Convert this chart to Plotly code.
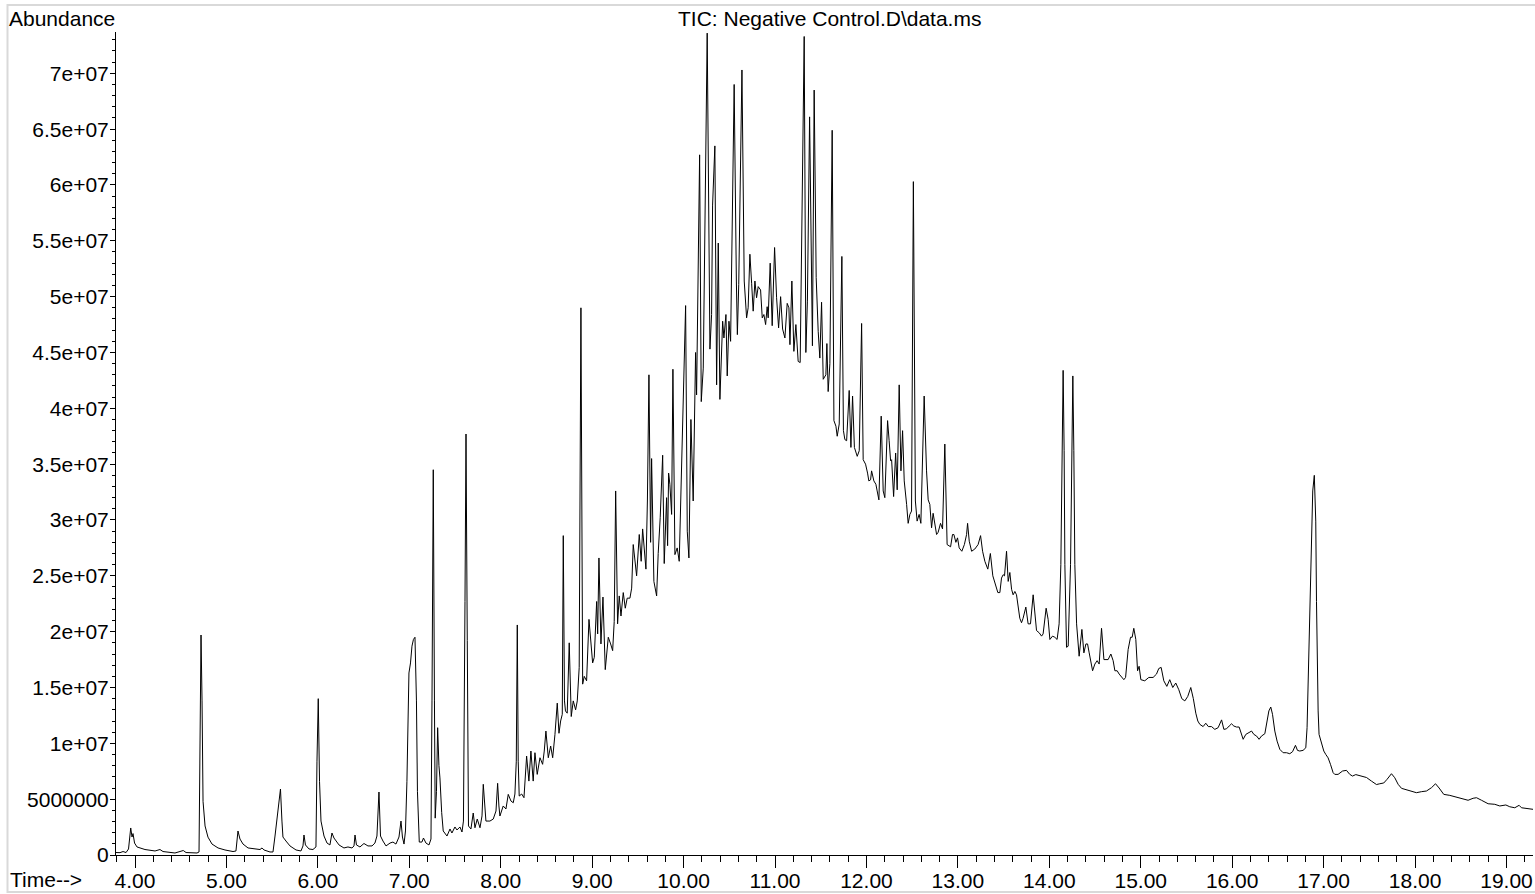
import plotly.graph_objects as go

# Retention time (minutes) and TIC abundance (millions)
time_min = [
    3.792, 3.836, 3.869, 3.902, 3.929, 3.953, 3.967, 3.978, 3.995, 4.022,
    4.109, 4.219, 4.273, 4.306, 4.437, 4.528, 4.558, 4.678, 4.700, 4.711,
    4.722, 4.733, 4.744, 4.766, 4.798, 4.842, 4.908, 4.984, 5.072, 5.104,
    5.126, 5.148, 5.181, 5.236, 5.312, 5.367, 5.389, 5.411, 5.476, 5.509,
    5.531, 5.553, 5.575, 5.591, 5.607, 5.618, 5.651, 5.695, 5.761, 5.815,
    5.837, 5.848, 5.864, 5.903, 5.946, 5.979, 5.990, 6.004, 6.018, 6.034,
    6.067, 6.100, 6.132, 6.154, 6.176, 6.198, 6.231, 6.285, 6.329, 6.373,
    6.395, 6.406, 6.422, 6.460, 6.504, 6.548, 6.592, 6.624, 6.646, 6.668,
    6.685, 6.712, 6.745, 6.789, 6.821, 6.854, 6.887, 6.909, 6.925, 6.942,
    6.958, 6.974, 6.989, 6.996, 7.013, 7.029, 7.045, 7.062, 7.078, 7.089,
    7.109, 7.138, 7.155, 7.182, 7.215, 7.237, 7.248, 7.262, 7.275, 7.283,
    7.297, 7.310, 7.324, 7.335, 7.354, 7.371, 7.412, 7.445, 7.466, 7.499,
    7.521, 7.554, 7.576, 7.592, 7.609, 7.620, 7.634, 7.647, 7.674, 7.699,
    7.718, 7.743, 7.773, 7.795, 7.809, 7.827, 7.838, 7.882, 7.918, 7.948,
    7.966, 7.980, 7.991, 8.027, 8.057, 8.082, 8.112, 8.137, 8.155, 8.170,
    8.181, 8.191, 8.202, 8.229, 8.254, 8.283, 8.308, 8.330, 8.355, 8.374,
    8.399, 8.429, 8.458, 8.476, 8.494, 8.520, 8.546, 8.568, 8.593, 8.618,
    8.637, 8.655, 8.673, 8.684, 8.697, 8.708, 8.727, 8.749, 8.771, 8.793,
    8.819, 8.837, 8.858, 8.877, 8.896, 8.913, 8.939, 8.965, 8.986, 9.005,
    9.023, 9.049, 9.060, 9.074, 9.096, 9.118, 9.143, 9.176, 9.202, 9.224,
    9.241, 9.257, 9.278, 9.296, 9.315, 9.340, 9.362, 9.383, 9.413, 9.432,
    9.449, 9.486, 9.515, 9.536, 9.552, 9.569, 9.588, 9.604, 9.621, 9.639,
    9.650, 9.675, 9.705, 9.722, 9.744, 9.771, 9.788, 9.814, 9.825, 9.836,
    9.850, 9.869, 9.883, 9.905, 9.930, 9.952, 9.978, 9.996, 10.022, 10.040,
    10.058, 10.080, 10.105, 10.131, 10.142, 10.175, 10.193, 10.215, 10.258, 10.288,
    10.306, 10.317, 10.342, 10.361, 10.379, 10.397, 10.427, 10.441, 10.463, 10.477,
    10.496, 10.514, 10.536, 10.553, 10.577, 10.588, 10.603, 10.638, 10.663, 10.689,
    10.706, 10.725, 10.744, 10.761, 10.780, 10.798, 10.816, 10.842, 10.860, 10.878,
    10.897, 10.914, 10.925, 10.947, 10.969, 10.995, 11.017, 11.039, 11.061, 11.083,
    11.108, 11.133, 11.152, 11.163, 11.184, 11.206, 11.228, 11.253, 11.275, 11.299,
    11.319, 11.337, 11.354, 11.378, 11.400, 11.409, 11.428, 11.450, 11.472, 11.490,
    11.509, 11.527, 11.556, 11.567, 11.581, 11.600, 11.625, 11.644, 11.666, 11.680,
    11.702, 11.731, 11.748, 11.764, 11.783, 11.811, 11.830, 11.848, 11.868, 11.899,
    11.921, 11.947, 11.964, 11.990, 12.012, 12.026, 12.045, 12.056, 12.081, 12.103,
    12.117, 12.136, 12.161, 12.183, 12.201, 12.231, 12.248, 12.264, 12.275, 12.297,
    12.319, 12.336, 12.358, 12.377, 12.395, 12.413, 12.439, 12.456, 12.475, 12.493,
    12.513, 12.535, 12.554, 12.576, 12.595, 12.631, 12.657, 12.675, 12.693, 12.712,
    12.729, 12.748, 12.767, 12.784, 12.810, 12.832, 12.857, 12.882, 12.904, 12.920,
    12.941, 12.956, 12.978, 12.996, 13.014, 13.043, 13.071, 13.095, 13.106, 13.124,
    13.150, 13.185, 13.221, 13.248, 13.270, 13.295, 13.327, 13.355, 13.382, 13.415,
    13.437, 13.459, 13.477, 13.495, 13.510, 13.532, 13.550, 13.568, 13.587, 13.604,
    13.623, 13.641, 13.659, 13.677, 13.696, 13.713, 13.743, 13.768, 13.794, 13.823,
    13.845, 13.860, 13.889, 13.915, 13.932, 13.965, 13.987, 14.006, 14.035, 14.060,
    14.085, 14.107, 14.126, 14.140, 14.151, 14.162, 14.170, 14.188, 14.206, 14.232,
    14.246, 14.257, 14.268, 14.279, 14.298, 14.326, 14.356, 14.378, 14.400, 14.418,
    14.436, 14.451, 14.473, 14.498, 14.523, 14.545, 14.571, 14.597, 14.618, 14.643,
    14.673, 14.698, 14.717, 14.742, 14.764, 14.790, 14.815, 14.834, 14.862, 14.888,
    14.906, 14.924, 14.946, 14.965, 14.982, 15.001, 15.044, 15.088, 15.135, 15.172,
    15.197, 15.223, 15.252, 15.285, 15.317, 15.350, 15.383, 15.416, 15.449, 15.482,
    15.514, 15.547, 15.575, 15.602, 15.624, 15.646, 15.682, 15.711, 15.739, 15.774,
    15.810, 15.846, 15.884, 15.909, 15.938, 15.967, 15.993, 16.018, 16.047, 16.076,
    16.095, 16.120, 16.149, 16.175, 16.212, 16.237, 16.267, 16.294, 16.320, 16.357,
    16.375, 16.401, 16.422, 16.441, 16.466, 16.491, 16.521, 16.557, 16.594, 16.630,
    16.660, 16.692, 16.714, 16.739, 16.775, 16.805, 16.819, 16.834, 16.849, 16.865,
    16.881, 16.898, 16.914, 16.922, 16.929, 16.940, 16.950, 16.977, 17.002, 17.024,
    17.049, 17.075, 17.104, 17.122, 17.158, 17.207, 17.250, 17.286, 17.316, 17.352,
    17.414, 17.469, 17.523, 17.578, 17.614, 17.658, 17.694, 17.742, 17.778, 17.815,
    17.852, 17.906, 17.961, 18.015, 18.070, 18.125, 18.180, 18.224, 18.263, 18.314,
    18.380, 18.453, 18.525, 18.580, 18.635, 18.672, 18.727, 18.799, 18.872, 18.927,
    18.993, 19.036, 19.091, 19.138, 19.164, 19.219, 19.291,
]

abundance_m = [
    0.22, 0.21, 0.31, 0.22, 0.54, 2.42, 1.61, 1.92, 1.07, 0.72,
    0.49, 0.36, 0.49, 0.31, 0.18, 0.40, 0.22, 0.18, 0.27, 8.4,
    19.7, 13.8, 4.8, 2.6, 1.6, 0.98, 0.63, 0.45, 0.31, 0.36,
    2.15, 1.43, 0.98, 0.63, 0.54, 0.49, 0.63, 0.45, 0.27, 0.27,
    1.70, 3.22, 4.30, 5.91, 3.04, 1.61, 1.25, 0.81, 0.45, 0.36,
    0.81, 1.79, 0.90, 0.54, 0.49, 0.72, 8.4, 14.0, 6.6, 3.04,
    1.70, 1.07, 0.90, 1.97, 1.52, 1.25, 0.90, 0.63, 0.72, 0.63,
    0.81, 1.79, 0.90, 0.72, 1.03, 0.81, 0.81, 1.07, 1.70, 5.64,
    1.70, 1.25, 0.81, 1.07, 1.16, 0.98, 1.61, 3.04, 1.61, 0.98,
    2.15, 6.6, 14.7, 16.3, 17.2, 18.7, 19.3, 19.5, 13.8, 5.7,
    1.16, 1.16, 1.52, 1.07, 0.90, 1.43, 13.8, 34.5, 13.8, 3.3,
    5.7, 11.4, 8.0, 6.9, 3.8, 2.15, 1.70, 2.33, 1.97, 2.51,
    2.24, 2.51, 2.06, 3.04, 22.7, 37.7, 19.2, 2.6, 2.33, 3.76,
    2.44, 3.22, 2.44, 3.5, 6.33, 3.76, 3.04, 3.04, 3.22, 3.94,
    6.42, 4.39, 3.49, 4.39, 4.12, 5.43, 4.83, 4.68, 5.46, 8.4,
    20.6, 8.4, 5.28, 5.46, 5.13, 8.86, 6.62, 9.31, 6.62, 9.16,
    7.22, 8.71, 8.12, 9.31, 11.1, 8.71, 9.76, 8.71, 10.8, 13.6,
    10.9, 12.0, 12.6, 28.6, 13.8, 12.9, 12.7, 19.0, 12.4, 13.8,
    13.0, 13.8, 16.8, 49.0, 15.3, 16.0, 15.6, 21.1, 18.9, 17.2,
    17.7, 22.7, 19.8, 26.6, 18.9, 23.1, 16.6, 19.5, 18.9, 18.3,
    20.9, 32.6, 20.7, 23.2, 21.4, 23.5, 22.1, 23.0, 23.0, 23.9,
    27.8, 25.0, 28.7, 26.3, 29.2, 27.2, 25.6, 31.7, 43.0, 28.0,
    35.5, 24.5, 23.2, 27.0, 30.2, 35.8, 26.1, 32.0, 27.7, 34.2,
    33.2, 30.5, 43.5, 26.9, 27.5, 26.3, 35.3, 38.9, 49.2, 29.0,
    26.6, 39.0, 31.7, 45.0, 41.2, 62.7, 40.6, 43.6, 73.6, 45.3,
    48.4, 58.2, 63.5, 42.1, 54.8, 40.8, 47.8, 46.3, 48.4, 42.9,
    47.8, 46.0, 59.9, 69.0, 51.4, 46.6, 51.1, 70.3, 51.4, 48.1,
    49.0, 53.8, 51.2, 48.7, 51.4, 49.9, 50.9, 50.6, 48.1, 48.4,
    47.5, 49.1, 48.1, 53.0, 47.4, 54.4, 49.9, 47.2, 50.0, 47.1,
    46.3, 49.4, 49.0, 45.7, 51.4, 45.1, 47.5, 44.2, 44.1, 58.5,
    73.3, 45.0, 49.6, 66.1, 46.6, 45.6, 68.5, 51.7, 46.9, 44.5,
    49.5, 42.6, 43.0, 45.8, 41.5, 44.0, 64.9, 38.9, 38.4, 37.5,
    38.6, 53.6, 38.0, 37.2, 37.1, 41.6, 36.5, 41.1, 36.5, 35.7,
    36.2, 47.6, 35.4, 35.0, 34.2, 33.5, 33.6, 34.4, 33.5, 33.2,
    32.6, 31.8, 39.3, 32.6, 32.0, 38.9, 37.1, 35.3, 35.4, 32.1,
    36.0, 32.7, 42.1, 34.4, 38.0, 33.5, 31.4, 29.7, 30.5, 30.8,
    60.3, 31.7, 29.9, 30.5, 29.7, 41.1, 34.4, 31.8, 31.4, 29.3,
    30.6, 29.7, 28.7, 28.9, 29.7, 29.2, 36.8, 27.8, 27.7, 27.6,
    28.7, 28.7, 28.0, 28.4, 27.5, 27.2, 27.8, 28.7, 29.7, 28.1,
    27.2, 27.4, 27.8, 28.6, 27.2, 26.3, 25.6, 27.0, 25.0, 24.1,
    23.5, 23.5, 24.8, 25.1, 25.0, 27.2, 24.5, 25.3, 23.8, 23.3,
    23.6, 23.3, 22.4, 21.2, 20.8, 21.2, 22.2, 20.7, 20.7, 23.3,
    21.4, 20.1, 19.9, 19.6, 19.8, 22.1, 21.1, 19.3, 19.6, 19.5,
    19.3, 20.7, 26.0, 36.2, 43.4, 36.2, 26.0, 18.6, 18.7, 26.0,
    36.2, 42.9, 36.2, 26.0, 20.7, 17.8, 20.2, 18.1, 18.9, 18.9,
    18.1, 17.5, 16.5, 17.1, 17.4, 17.1, 20.3, 17.5, 17.5, 17.5,
    18.0, 17.4, 16.5, 16.5, 16.2, 15.9, 15.7, 15.9, 18.4, 19.5,
    19.5, 20.3, 19.3, 16.5, 16.9, 15.7, 15.6, 15.9, 15.9, 16.2,
    16.7, 16.8, 15.6, 15.1, 15.7, 15.0, 15.4, 14.8, 14.0, 13.8,
    14.2, 15.0, 14.0, 12.7, 12.0, 11.7, 11.5, 11.8, 11.5, 11.5,
    11.25, 11.4, 12.1, 11.25, 11.3, 11.55, 11.75, 11.55, 11.46, 11.46,
    10.95, 10.36, 10.8, 10.95, 11.1, 10.8, 10.65, 10.36, 10.65, 10.86,
    11.7, 12.9, 13.25, 12.6, 11.1, 10.2, 9.46, 9.16, 9.16, 9.07,
    9.25, 9.82, 9.37, 9.31, 9.37, 9.6, 11.4, 16.8, 21.2, 28.1,
    32.6, 34.0, 29.9, 22.7, 18.3, 12.9, 10.8, 9.9, 9.31, 9.0,
    8.7, 8.12, 7.37, 7.22, 7.22, 7.52, 7.58, 7.22, 7.07, 7.2,
    7.07, 6.94, 6.62, 6.31, 6.38, 6.45, 6.78, 7.28, 6.92, 6.33,
    5.97, 5.86, 5.73, 5.58, 5.67, 5.73, 6.03, 6.38, 6.0, 5.43,
    5.34, 5.19, 4.99, 4.9, 5.08, 5.13, 4.9, 4.59, 4.54, 4.39,
    4.48, 4.32, 4.23, 4.45, 4.23, 4.15, 4.09,
]

x_tick_vals = [4, 5, 6, 7, 8, 9, 10, 11, 12, 13, 14, 15, 16, 17, 18, 19]
x_tick_text = ["4.00", "5.00", "6.00", "7.00", "8.00", "9.00", "10.00", "11.00",
               "12.00", "13.00", "14.00", "15.00", "16.00", "17.00", "18.00", "19.00"]
y_tick_vals = [0, 5e6, 1e7, 1.5e7, 2e7, 2.5e7, 3e7, 3.5e7, 4e7, 4.5e7, 5e7,
               5.5e7, 6e7, 6.5e7, 7e7]
y_tick_text = ["0", "5000000", "1e+07", "1.5e+07", "2e+07", "2.5e+07", "3e+07",
               "3.5e+07", "4e+07", "4.5e+07", "5e+07", "5.5e+07", "6e+07",
               "6.5e+07", "7e+07"]

title_text = "TIC: Negative Control.D\\data.ms"
y_label = "Abundance"
x_label = "Time-->"

FONT = "Liberation Sans, Arial, Helvetica, sans-serif"
FS = 21

abundance = [v * 1e6 for v in abundance_m]

fig = go.Figure()
fig.add_trace(go.Scatter(
    x=time_min, y=abundance, mode="lines",
    line=dict(color="black", width=1),
    hoverinfo="skip", showlegend=False,
))

W, H = 1535, 894
L, R, T, B = 116, 2, 32, 39
pw = W - L - R
ph = H - T - B

def px_x(px):
    return (px - L) / pw

def px_y(py):
    return (H - B - py) / ph

fig.update_layout(
    width=W, height=H,
    margin=dict(l=L, r=R, t=T, b=B, pad=0, autoexpand=False),
    paper_bgcolor="white", plot_bgcolor="white",
    showlegend=False,
    font=dict(family=FONT, size=FS, color="black"),
    xaxis=dict(
        range=[3.792, 19.29],
        tickmode="array", tickvals=x_tick_vals, ticktext=x_tick_text,
        ticks="outside", ticklen=12, tickwidth=1, tickcolor="black",
        ticklabelstandoff=-5,
        showline=True, linecolor="black", linewidth=1,
        showgrid=False, zeroline=False, automargin=False,
        tickfont=dict(family=FONT, size=FS, color="black"),
        minor=dict(tickmode="linear", tick0=3.8, dtick=0.2, ticks="outside",
                   ticklen=6, tickwidth=1, tickcolor="black", showgrid=False),
        fixedrange=True,
    ),
    yaxis=dict(
        range=[0, 7.37e7],
        tickmode="array", tickvals=y_tick_vals, ticktext=y_tick_text,
        ticks="outside", ticklen=5, tickwidth=1, tickcolor="black",
        ticklabelstandoff=-3,
        showline=True, linecolor="black", linewidth=1,
        showgrid=False, zeroline=False, automargin=False,
        tickfont=dict(family=FONT, size=FS, color="black"),
        minor=dict(tickmode="linear", tick0=0, dtick=1e6, ticks="outside",
                   ticklen=3, tickwidth=1, tickcolor="black", showgrid=False),
        fixedrange=True,
    ),
    shapes=[dict(
        type="rect", xref="paper", yref="paper",
        x0=px_x(7.5), x1=px_x(1540), y0=px_y(892), y1=px_y(5),
        line=dict(color="#d9d9d9", width=2), fillcolor="rgba(0,0,0,0)",
        layer="below",
    )],
    annotations=[
        dict(text=title_text, xref="paper", yref="paper",
             x=px_x(829), y=px_y(19), xanchor="center", yanchor="middle",
             showarrow=False, font=dict(family=FONT, size=FS, color="black")),
        dict(text=y_label, xref="paper", yref="paper",
             x=px_x(7), y=px_y(18), xanchor="left", yanchor="middle",
             showarrow=False, font=dict(family=FONT, size=FS, color="black")),
        dict(text=x_label, xref="paper", yref="paper",
             x=px_x(8), y=px_y(879), xanchor="left", yanchor="middle",
             showarrow=False, font=dict(family=FONT, size=FS, color="black")),
    ],
)

fig.write_html(
    "out.html",
    config={"displayModeBar": False},
    post_script="document.body.style.margin='0px';document.body.style.padding='0px';document.body.style.overflow='hidden';",
)
